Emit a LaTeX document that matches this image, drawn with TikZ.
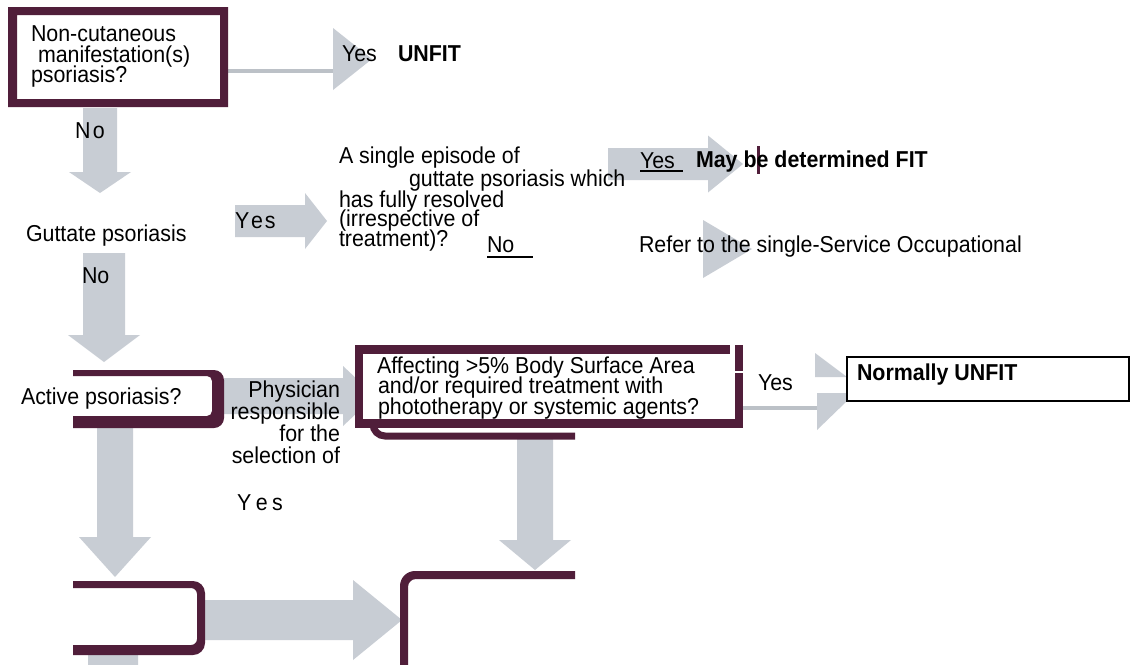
\documentclass[tikz,border=0pt]{standalone}
\usepackage{fontspec}
\setmainfont{Liberation Sans}[FakeStretch=0.93]
\definecolor{maroonc}{RGB}{80,30,58}
\definecolor{arrowc}{RGB}{200,205,212}
\definecolor{linec}{RGB}{188,193,199}
\newcommand{\fs}{\fontsize{23pt}{21pt}\selectfont}
% vertical block arrow: xc, ytop, yhead, yapex, half shaft, half head
\newcommand{\blkdown}[6]{%
  \fill[arrowc] ({#1-#5},#2) -- ({#1+#5},#2) -- ({#1+#5},#3) -- ({#1+#6},#3) -- (#1,#4) -- ({#1-#6},#3) -- ({#1-#5},#3) -- cycle;}
% horizontal block arrow: yc, xleft, xhead, xapex, half shaft, half head
\newcommand{\blkright}[6]{%
  \fill[arrowc] (#2,{#1-#5}) -- (#3,{#1-#5}) -- (#3,{#1-#6}) -- (#4,#1) -- (#3,{#1+#6}) -- (#3,{#1+#5}) -- (#2,{#1+#5}) -- cycle;}
\begin{document}
\begin{tikzpicture}[x=1pt,y=-1pt,
  txt/.style={inner sep=0pt, outer sep=0pt, anchor=base west, font=\fs},
  txtr/.style={txt, anchor=base east},
  ulstyle/.style={line width=1.4pt, black}]
\useasboundingbox (0,0) rectangle (1131,664);
\fill[white] (0,0) rectangle (1131,664);

% ---------- gray block arrows ----------
\blkdown{100}{108}{172}{193}{17}{31}
\blkdown{104}{253}{335}{362}{21}{36}
\blkdown{115}{427}{537}{577}{18}{36}
\blkdown{113}{650}{720}{740}{25}{40}
\blkdown{535}{437}{540}{570}{18}{36}
\blkright{221}{235}{305}{327}{16}{28}
\blkright{164}{608}{708}{743}{16}{28.5}
\fill[arrowc] (703,220) -- (752,249) -- (703,278) -- cycle;
\blkright{396}{224}{343}{375}{18}{30}
\blkright{620}{204}{353}{402}{20}{40}
% box 1 -> UNFIT
\fill[linec] (220,69) rectangle (333,73);
\fill[arrowc] (333,28) -- (372,59) -- (333,90) -- cycle;
% Affecting -> Normally UNFIT
\fill[linec] (733,406) rectangle (817,410);
\fill[arrowc] (815,353) -- (847,377) -- (815,377) -- cycle;
\fill[arrowc] (817,393) -- (847,393) -- (847,401) -- (817,430) -- cycle;

% ---------- boxes ----------
% box 1
\fill[maroonc, even odd rule] (8,7) rectangle (228,107) (17,15) rectangle (220,99);
% Active psoriasis box
\begin{scope}
  \clip (73,300) rectangle (300,450);
  \fill[maroonc, even odd rule, rounded corners=10pt] (40,370) rectangle (224,428)
    [rounded corners=5pt] (40,376) rectangle (212,416);
\end{scope}
% rounded line under Affecting box
\draw[maroonc, line width=7pt, rounded corners=12pt] (373,405) -- (373,436) -- (575,436);
% Affecting box
\fill[maroonc] (355,345) rectangle (743,428);
\fill[white] (363,354) rectangle (735,419);
\fill[white] (730,345) rectangle (735,354);
\fill[white] (735,371) rectangle (743,372.5);
% Normally UNFIT box
\draw[black, line width=1.5pt, fill=white] (847,357) rectangle (1129,401);
% bottom-left box
\begin{scope}
  \clip (73,540) rectangle (300,664);
  \fill[maroonc, even odd rule, rounded corners=12pt] (40,581) rectangle (205,655)
    [rounded corners=6pt] (40,588) rectangle (197,645);
\end{scope}
% bottom-right box
\begin{scope}
  \clip (380,540) rectangle (575,664);
  \fill[maroonc, even odd rule, rounded corners=15pt] (400,571) rectangle (620,720)
    [rounded corners=8pt] (408,579) rectangle (640,740);
\end{scope}
% marker bar
\fill[maroonc] (757,146) rectangle (760,174);

% ---------- texts ----------
\node[txt] (t1a) at (31,41) {Non-cutaneous};
\node[txt] (t1b) at (38,62) {manifestation(s)};
\node[txt] (t1c) at (31,82) {psoriasis?};
\node[txt] (yes1) at (342,61) {Yes};
\node[txt] (unfit) at (398,61) {\bfseries UNFIT};
\node[txt] (no1) at (75,138) {N\kern2.5pt o};
\node[txt] (gutt) at (26,241) {Guttate psoriasis};
\node[txt] (no2) at (82,283) {No};
\node[txt] (yes2) at (235,228) {Y\kern1.8pt e\kern1.8pt s};
\node[txt] (s1) at (339,163) {A single episode of};
\node[txt] (s2) at (409,186) {guttate psoriasis which};
\node[txt] (s3) at (339,207) {has fully resolved};
\node[txt] (s4) at (339,226) {(irrespective of};
\node[txt] (s5) at (339,246) {treatment)?};
\node[txt] (no3) at (487,252) {No};
\draw[ulstyle] (487,257) -- (533,257);
\node[txt] (yes3) at (640,168) {Yes};
\draw[ulstyle] (640,171) -- (683,171);
\node[txt] (fit) at (696,167) {\bfseries May be determined FIT};
\node[txt] (refer) at (639,252) {Refer to the single-Service Occupational};
\node[txt] (active) at (21,404) {Active psoriasis?};
\node[txtr] (p1) at (340,397) {Physician};
\node[txtr] (p2) at (340,419) {responsible};
\node[txtr] (p3) at (340,441) {for the};
\node[txtr] (p4) at (340,463) {selection of};
\node[txt] (yes4) at (237,510) {Y\kern4.5pt e\kern4.5pt s};
\node[txt] (a1) at (377,373) {Affecting >5\% Body Surface Area};
\node[txt] (a2) at (378,393) {and/or required treatment with};
\node[txt] (a3) at (378,414) {phototherapy or systemic agents?};
\node[txt] (yes5) at (758,390) {Yes};
\node[txt] (nunfit) at (857,380) {\bfseries Normally UNFIT};
\end{tikzpicture}
\end{document}
